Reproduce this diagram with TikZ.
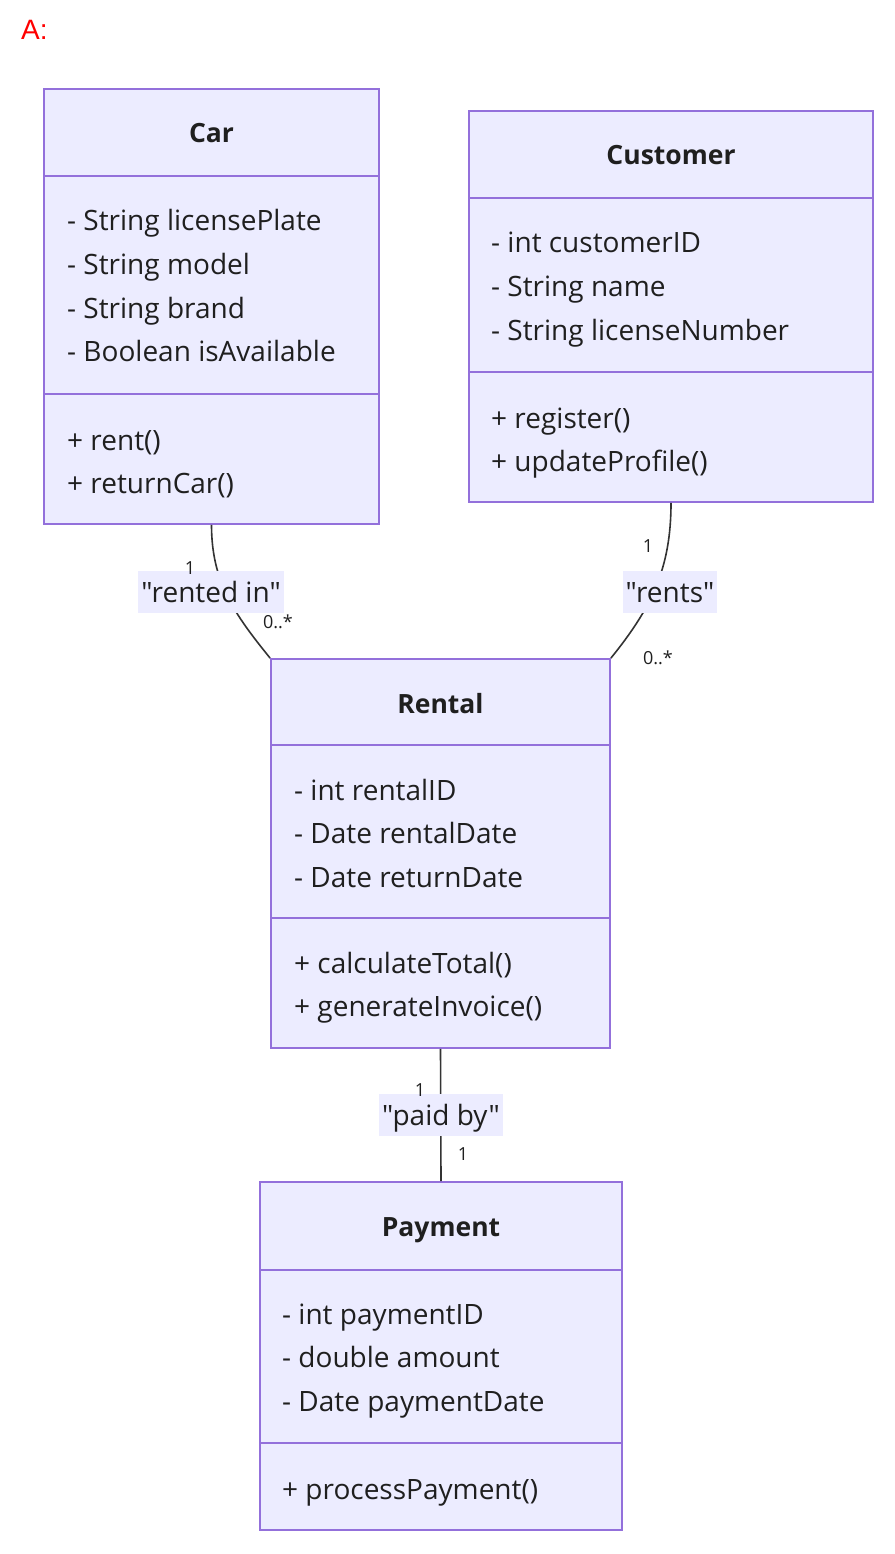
\documentclass[tikz,border=0pt]{standalone}
\usepackage{fontspec}
\setmainfont{Open Sans}[Ligatures=TeXOff]
\newfontfamily\labelfont{Liberation Sans}
\usetikzlibrary{positioning,calc}
\definecolor{classfill}{HTML}{ECECFF}
\definecolor{classborder}{HTML}{9370DB}
\definecolor{linegray}{HTML}{333333}
\definecolor{textdark}{HTML}{1F1F1F}

\begin{document}
\begin{tikzpicture}[x=1pt, y=-1pt,
    classbox/.style={draw=classborder, fill=classfill, line width=1.8pt, inner sep=0pt},
    divider/.style={draw=classborder, line width=1.8pt},
    title/.style={anchor=base, inner sep=0pt, font=\fontsize{26.5}{30}\selectfont\bfseries, text=textdark},
    member/.style={anchor=base west, inner sep=0pt, font=\fontsize{28}{32}\selectfont, text=textdark},
    relation/.style={draw=linegray, line width=1.6pt},
    rellabel/.style={fill=classfill, font=\fontsize{28}{32}\selectfont, text=textdark, inner xsep=3pt, inner ysep=7.5pt, text height=24pt, text depth=3pt},
    mult/.style={font=\fontsize{18}{20}\selectfont, text=textdark, inner sep=0pt},
]
    \useasboundingbox (0,0) rectangle (894,1554);
    \node[anchor=base west, inner sep=0pt, font=\labelfont\fontsize{28}{32}\selectfont, text=red] (tag) at (21,40) {A:};

    % Car
    \node[classbox, minimum width=335pt, minimum height=435pt] (car) at (211.5,306.5) {};
    \draw[divider] (car.west |- 0,176) -- (car.east |- 0,176);
    \draw[divider] (car.west |- 0,394) -- (car.east |- 0,394);
    \node[title] (cartitle) at (211.5,143) {Car};
    \foreach \t [count=\i] in {- String licensePlate, - String model, - String brand, - Boolean isAvailable}
        \node[member] (cara\i) at (67, 231 + 43.5*\i - 43.5) {\t};
    \foreach \t [count=\i] in {+ rent(), + returnCar()}
        \node[member] (carm\i) at (67, 450 + 43.5*\i - 43.5) {\t};

    % Customer
    \node[classbox, minimum width=404pt, minimum height=391pt] (customer) at (671,306.5) {};
    \draw[divider] (customer.west |- 0,198) -- (customer.east |- 0,198);
    \draw[divider] (customer.west |- 0,372) -- (customer.east |- 0,372);
    \node[title] (customertitle) at (671,165) {Customer};
    \foreach \t [count=\i] in {- int customerID, - String name, - String licenseNumber}
        \node[member] (customera\i) at (491, 253 + 43.5*\i - 43.5) {\t};
    \foreach \t [count=\i] in {+ register(), + updateProfile()}
        \node[member] (customerm\i) at (491, 428 + 43.5*\i - 43.5) {\t};

    % Rental
    \node[classbox, minimum width=339pt, minimum height=389pt] (rental) at (440.5,853.5) {};
    \draw[divider] (rental.west |- 0,745) -- (rental.east |- 0,745);
    \draw[divider] (rental.west |- 0,918) -- (rental.east |- 0,918);
    \node[title] (rentaltitle) at (440.5,713) {Rental};
    \foreach \t [count=\i] in {- int rentalID, - Date rentalDate, - Date returnDate}
        \node[member] (rentala\i) at (294, 800 + 43.5*\i - 43.5) {\t};
    \foreach \t [count=\i] in {+ calculateTotal(), + generateInvoice()}
        \node[member] (rentalm\i) at (294, 973 + 43.5*\i - 43.5) {\t};

    % Payment
    \node[classbox, minimum width=362pt, minimum height=348pt] (payment) at (441,1356) {};
    \draw[divider] (payment.west |- 0,1270) -- (payment.east |- 0,1270);
    \draw[divider] (payment.west |- 0,1443) -- (payment.east |- 0,1443);
    \node[title] (paymenttitle) at (441,1236) {Payment};
    \foreach \t [count=\i] in {- int paymentID, - double amount, - Date paymentDate}
        \node[member] (paymenta\i) at (282, 1324 + 43.5*\i - 43.5) {\t};
    \node[member] (paymentm1) at (282, 1499) {+ processPayment()};

    % Relations
    \draw[relation] (car.south) to[out=-90, in=129] (rental.north west);
    \draw[relation] (customer.south) to[out=-90, in=51] (rental.north east);
    \draw[relation] (rental.south) -- (payment.north);

    \node[rellabel] (rentedin) at (211,591.5) {"rented in"};
    \node[rellabel] (rents) at (670,591.5) {"rents"};
    \node[rellabel] (paidby) at (441,1115) {"paid by"};

    \node[mult] (m1) at (190,568) {1};
    \node[mult] (m2) at (278,622) {0..*};
    \node[mult] (m3) at (648,546) {1};
    \node[mult] (m4) at (658,658) {0..*};
    \node[mult] (m5) at (420,1090) {1};
    \node[mult] (m6) at (463,1154) {1};
\end{tikzpicture}
\end{document}
